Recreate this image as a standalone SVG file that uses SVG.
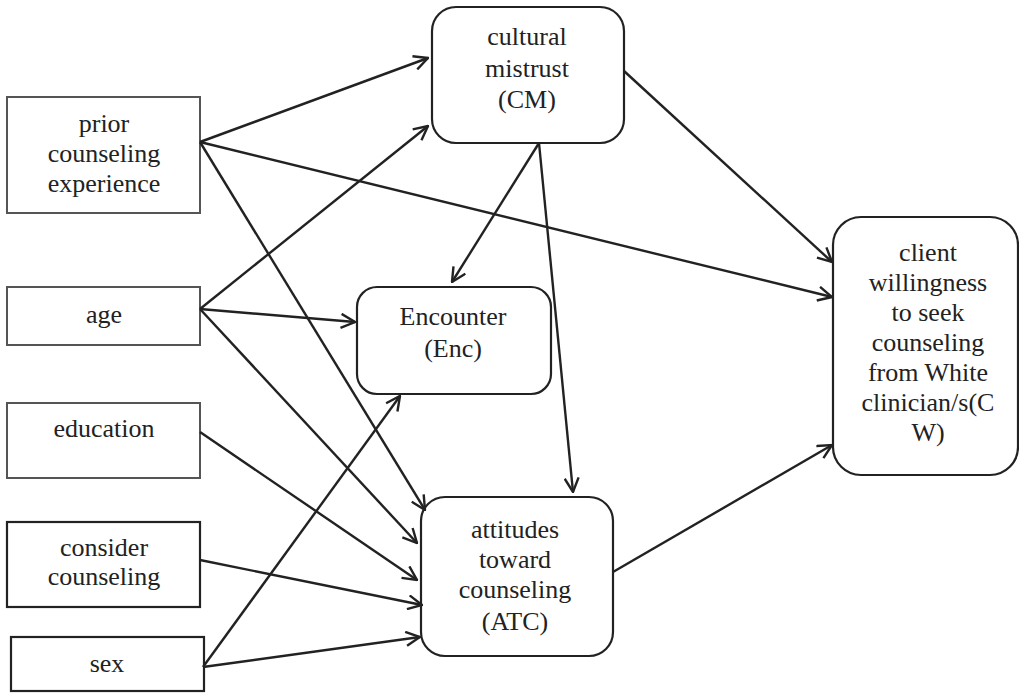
<svg xmlns="http://www.w3.org/2000/svg" width="1019" height="694" viewBox="0 0 1019 694">
<style>
text{font-size:26px;fill:#222;text-anchor:middle}
.g{fill:#fff;stroke:#555;stroke-width:2}
.b{fill:#fff;stroke:#222;stroke-width:2.2}
.c line{stroke:#222;stroke-width:2.4;marker-end:url(#ah)}
</style>
<defs>
<marker id="ah" viewBox="0 0 16 16" refX="15" refY="8" markerWidth="16" markerHeight="16" markerUnits="userSpaceOnUse" orient="auto">
<path d="M1,1 L15,8 L1,15" fill="none" stroke="#222" stroke-width="2.4"/>
</marker>
</defs>
<g font-family="Liberation Serif, DejaVu Serif, serif">
<g id="prior"><rect class="g" x="7" y="97" width="193" height="116"/><text x="104" y="132">prior</text><text x="104" y="162">counseling</text><text x="104" y="192">experience</text></g>
<g id="age"><rect class="g" x="7" y="287" width="193" height="58"/><text x="104" y="323">age</text></g>
<g id="education"><rect class="g" x="7" y="403" width="193" height="75"/><text x="104" y="437">education</text></g>
<g id="consider"><rect class="b" x="7" y="522" width="193" height="85"/><text x="104" y="556">consider</text><text x="104" y="585">counseling</text></g>
<g id="sex"><rect class="b" x="11" y="637" width="193" height="54"/><text x="107" y="672">sex</text></g>
<g id="cm"><rect class="b" x="432" y="7" width="192" height="136" rx="24"/><text x="527" y="45">cultural</text><text x="527" y="77">mistrust</text><text x="527" y="108">(CM)</text></g>
<g id="enc"><rect class="b" x="357" y="287" width="194" height="107" rx="20"/><text x="453" y="325">Encounter</text><text x="453" y="357">(Enc)</text></g>
<g id="atc"><rect class="b" x="421" y="497" width="192" height="159" rx="24"/><text x="515" y="538">attitudes</text><text x="515" y="568">toward</text><text x="515" y="598">counseling</text><text x="515" y="630">(ATC)</text></g>
<g id="cw"><rect class="b" x="833" y="217" width="185" height="258" rx="28"/><text x="928" y="261">client</text><text x="928" y="291">willingness</text><text x="928" y="321">to seek</text><text x="928" y="351">counseling</text><text x="928" y="381">from White</text><text x="928" y="411">clinician/s(C</text><text x="928" y="441">W)</text></g>
</g>
<g id="connectors" class="c">
<line x1="200" y1="142" x2="428" y2="58"/>
<line x1="200" y1="142" x2="832" y2="297"/>
<line x1="200" y1="142" x2="425" y2="510"/>
<line x1="200" y1="309" x2="428" y2="126"/>
<line x1="200" y1="309" x2="355" y2="322"/>
<line x1="200" y1="309" x2="417" y2="543"/>
<line x1="200" y1="432" x2="417" y2="580"/>
<line x1="200" y1="560" x2="422" y2="605"/>
<line x1="203" y1="667" x2="420" y2="637"/>
<line x1="203" y1="667" x2="400" y2="396"/>
<line x1="539" y1="143" x2="452" y2="282"/>
<line x1="539" y1="143" x2="573" y2="492"/>
<line x1="624" y1="71" x2="832" y2="262"/>
<line x1="613" y1="572" x2="832" y2="445"/>
</g>
</svg>
